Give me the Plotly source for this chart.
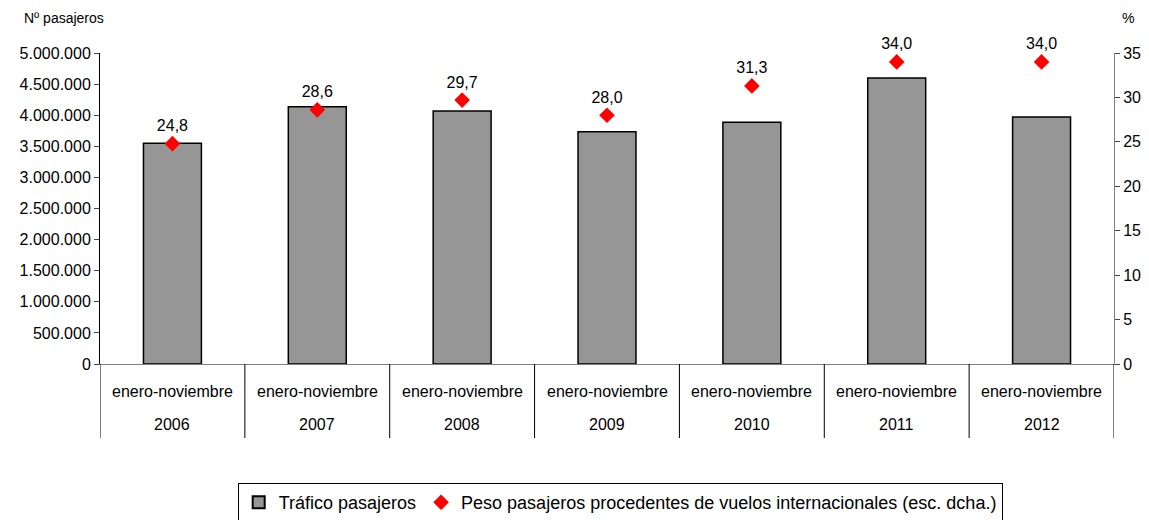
import plotly.graph_objects as go

years = ["2006", "2007", "2008", "2009", "2010", "2011", "2012"]
period = ["enero-noviembre"] * 7
trafico = [3548000, 4135000, 4067000, 3735000, 3886000, 4600000, 3971000]
peso = [24.8, 28.6, 29.7, 28.0, 31.3, 34.0, 34.0]

FONT = "Liberation Sans, Arial, sans-serif"

fig = go.Figure()
fig.add_trace(go.Bar(
    x=years, y=trafico, name="Tráfico pasajeros",
    marker=dict(color="#969696", line=dict(color="black", width=1.5)),
    width=0.4,
))
fig.add_trace(go.Scatter(
    x=years, y=peso, name="Peso pasajeros procedentes de vuelos internacionales (esc. dcha.)",
    mode="markers+text", yaxis="y2", cliponaxis=False,
    marker=dict(symbol="diamond", color="#ff0000", size=12),
    texttemplate="%{y:.1f}", textposition="top center",
    textfont=dict(size=16, color="black"),
))

annotations = [
    dict(text="Nº pasajeros", xref="paper", yref="paper", x=-0.077, y=1.113,
         xanchor="left", yanchor="middle", showarrow=False, font=dict(size=14)),
    dict(text="%", xref="paper", yref="paper", x=1.0138, y=1.113,
         xanchor="center", yanchor="middle", showarrow=False, font=dict(size=14)),
]
for i, yr in enumerate(years):
    annotations.append(dict(text=period[i], x=i, xref="x", yref="paper", y=-0.087,
                            xanchor="center", yanchor="middle", showarrow=False,
                            font=dict(size=16)))
    annotations.append(dict(text=yr, x=i, xref="x", yref="paper", y=-0.196,
                            xanchor="center", yanchor="middle", showarrow=False,
                            font=dict(size=16)))

shapes = []
for k in range(len(years) + 1):
    shapes.append(dict(type="line", xref="x", yref="paper", x0=k - 0.5, x1=k - 0.5,
                       y0=0, y1=-0.238, line=dict(color="black", width=1)))

fig.update_layout(
    width=1149, height=520,
    separators=",.",
    font=dict(family=FONT, color="black", size=16),
    paper_bgcolor="white", plot_bgcolor="white",
    margin=dict(l=100, r=35, t=53, b=156, autoexpand=False),
    showlegend=True,
    legend=dict(orientation="h", x=0.513, xanchor="center", y=-0.383, yanchor="top",
                bordercolor="black", borderwidth=1, font=dict(size=18),
                itemsizing="constant"),
    xaxis=dict(type="category", range=[-0.5, 6.5], showline=True, linecolor="#808080",
               showticklabels=False, ticks="", showgrid=False, automargin=False),
    yaxis=dict(range=[0, 5000000], dtick=500000, tickformat=",d", showline=True,
               linecolor="black", ticks="outside", ticklen=5, showgrid=False,
               tickfont=dict(size=16), zeroline=False, automargin=False),
    yaxis2=dict(range=[0, 35], dtick=5, overlaying="y", side="right", showline=True,
                linecolor="#808080", ticks="outside", ticklen=5, showgrid=False,
                tickfont=dict(size=16), zeroline=False, automargin=False),
    annotations=annotations,
    shapes=shapes,
)

fig.write_html("out.html", config={"displayModeBar": False},
               post_script="document.body.style.margin='0';")
